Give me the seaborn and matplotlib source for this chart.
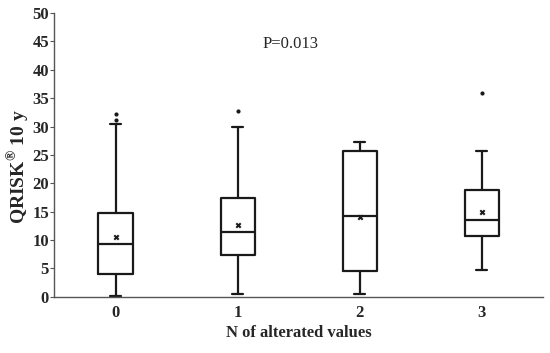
import matplotlib
matplotlib.use("Agg")
import matplotlib.pyplot as plt
import seaborn as sns
import pandas as pd

# %% data -------------------------------------------------------------
groups = ["0", "1", "2", "3"]
whisker_low = [0.1, 0.5, 0.5, 4.8]
q1 = [4.1, 7.3, 4.6, 10.7]
median = [9.4, 11.5, 14.3, 13.6]
q3 = [14.8, 17.4, 25.7, 18.9]
whisker_high = [30.4, 29.9, 27.3, 25.7]
means = [10.6, 12.7, 14.1, 15.0]
outliers = [[31.2, 32.2], [32.8], [], [35.9]]

# %% style ------------------------------------------------------------
sns.set_style("ticks")
plt.rcParams["font.family"] = ["Liberation Serif", "DejaVu Serif"]
plt.rcParams["mathtext.fontset"] = "custom"
plt.rcParams["mathtext.rm"] = "Liberation Serif:bold"
plt.rcParams["mathtext.bf"] = "Liberation Serif:bold"

fig, ax = plt.subplots(figsize=(5.5, 3.53), dpi=100)
fig.subplots_adjust(left=0.099, right=0.987, bottom=0.159, top=0.963)

line_col = "#1a1a1a"
stats = []
for i, g in enumerate(groups):
    stats.append({"label": g, "whislo": whisker_low[i], "q1": q1[i], "med": median[i],
                  "q3": q3[i], "whishi": whisker_high[i], "fliers": []})

ax.bxp(stats, positions=range(len(groups)), widths=0.28, capwidths=0.09,
       showfliers=False, manage_ticks=False,
       boxprops=dict(color=line_col, lw=1.6),
       whiskerprops=dict(color=line_col, lw=1.6),
       capprops=dict(color=line_col, lw=1.6),
       medianprops=dict(color=line_col, lw=1.6))

# means as x markers
mean_df = pd.DataFrame({"pos": range(len(groups)), "mean": means})
sns.scatterplot(data=mean_df, x="pos", y="mean", marker="X", s=18, color=line_col,
                linewidth=0, ax=ax, zorder=5)

# outliers as dots
out_df = pd.DataFrame([(i, v) for i, vals in enumerate(outliers) for v in vals],
                      columns=["pos", "value"])
sns.scatterplot(data=out_df, x="pos", y="value", marker="o", s=9, color=line_col,
                linewidth=0, ax=ax, zorder=5)

# %% axes -------------------------------------------------------------
ax.set_xlim(-0.5, 3.5)
ax.set_ylim(0, 50)
ax.set_yticks(range(0, 51, 5))
ax.set_xticks(range(len(groups)))
ax.set_xticklabels(groups)
ax.tick_params(axis="x", length=0, pad=6)
ax.tick_params(axis="y", length=3, width=0.8, color="#555555", pad=1)
for lab in ax.get_xticklabels() + ax.get_yticklabels():
    lab.set_fontsize(12)
    lab.set_fontweight("bold")
for s in ["top", "right"]:
    ax.spines[s].set_visible(False)
for s in ["left", "bottom"]:
    ax.spines[s].set_color("#555555")
    ax.spines[s].set_linewidth(1.0)

ax.set_xlabel("N of alterated values", fontsize=12, fontweight="bold", labelpad=3)
ax.set_ylabel(r"QRISK$^{\mathrm{®}}$ 10 y", fontsize=14, fontweight="bold")
ax.yaxis.set_label_coords(-0.045, 0.458)
ax.text(1.43, 44.5, "P=0.013", fontsize=12, ha="center", va="center")

fig.savefig("out.png", dpi=100)
plt.close("all")
